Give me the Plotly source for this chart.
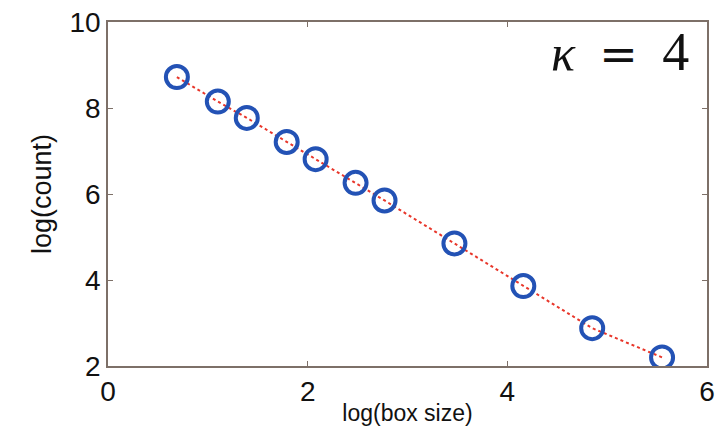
import plotly.graph_objects as go

# data
log_box_size = [0.69, 1.10, 1.39, 1.79, 2.08, 2.48, 2.77, 3.47, 4.16, 4.85, 5.55]
log_count = [8.72, 8.15, 7.77, 7.21, 6.81, 6.26, 5.85, 4.85, 3.86, 2.88, 2.20]
x_ticks = [0, 2, 4, 6]
y_ticks = [2, 4, 6, 8, 10]

fig = go.Figure()
fig.add_trace(go.Scatter(
    x=log_box_size, y=log_count, mode="lines",
    line=dict(color="#e8362a", width=2, dash="dot"),
    showlegend=False, hoverinfo="skip"))
fig.add_trace(go.Scatter(
    x=log_box_size, y=log_count, mode="markers",
    marker=dict(symbol="circle-open", size=22, color="#2352b5",
                line=dict(width=4, color="#2352b5")),
    showlegend=False))

axis_common = dict(
    showgrid=False, zeroline=False, showline=True, mirror="ticks",
    linecolor="#7d7068", linewidth=1.5, ticks="inside", ticklen=5,
    tickcolor="#7d7068", ticklabeloverflow="allow", automargin=False,
    tickfont=dict(family="Liberation Sans, Arial", size=28, color="#111"),
)
fig.update_xaxes(range=[0, 6], tickvals=x_ticks, title=dict(
    text="log(box size)", font=dict(family="Liberation Sans, Arial", size=23, color="#111"),
    standoff=0), **axis_common)
fig.update_yaxes(range=[2, 10], tickvals=y_ticks, title=dict(
    text="log(count)", font=dict(family="Liberation Sans, Arial", size=27, color="#111"),
    standoff=10), **axis_common)

fig.add_annotation(
    x=0.973, y=1.005, xref="paper", yref="paper", xanchor="right", yanchor="top",
    text=('<i><span style="font-size:50px">κ</span></i> \u2009'
          '<span style="font-family:DejaVu Serif;font-size:46px">=</span> \u2009'
          '4'),
    showarrow=False,
    font=dict(family="Liberation Serif, Times New Roman", size=54, color="#111"))

fig.update_layout(
    width=720, height=426,
    margin=dict(l=108, r=13, t=22, b=60),
    paper_bgcolor="white", plot_bgcolor="white",
)
fig.write_html("out.html", config={"displayModeBar": False},
               post_script="document.body.style.margin='0';")
